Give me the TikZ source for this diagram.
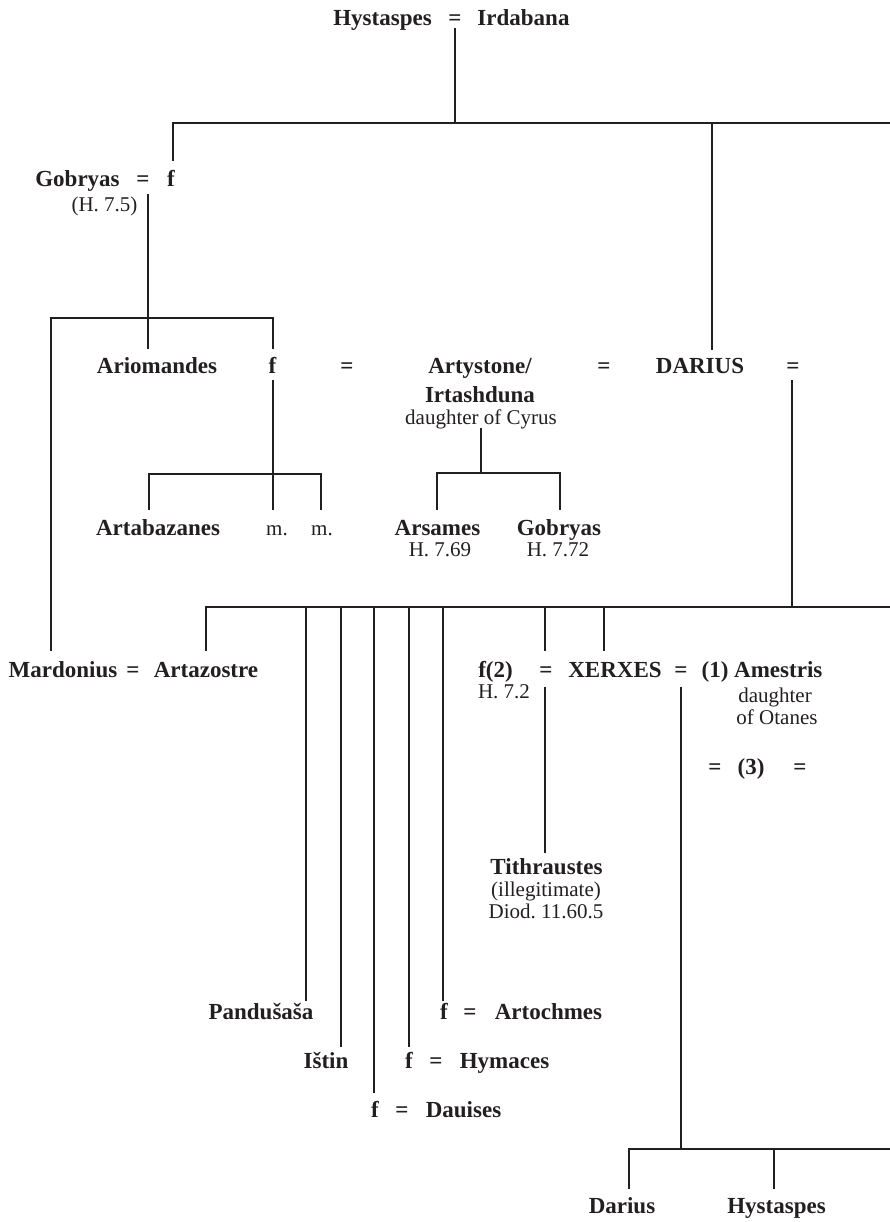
\documentclass[tikz,border=0pt]{standalone}
\usepackage{fontspec}
\setmainfont{Liberation Serif}
\frenchspacing
\definecolor{ink}{HTML}{231F20}
\newcommand\nmfont{\fontsize{23}{27}\selectfont\bfseries}
\newcommand\smfont{\fontsize{21}{24}\selectfont}
\tikzset{
  nm/.style={anchor=base, inner sep=0pt, font=\nmfont, text=ink},
  sm/.style={anchor=base, inner sep=0pt, font=\smfont, text=ink},
  ln/.style={draw=ink, line width=2.9pt, line cap=butt, line join=miter},
}
\begin{document}
\begin{tikzpicture}[x=1pt,y=-1pt]
\useasboundingbox[fill=white] (0,0) rectangle (890,1222);

% ---------- row 0
\node[nm] (hyst0) at (382.5,26) {Hystaspes};
\node[nm] (eq0) at (455,26) {=};
\node[nm] (irda) at (523.5,26) {Irdabana};

% ---------- row 1
\node[nm] (gob1) at (77.5,187) {Gobryas};
\node[nm] (eq1) at (143,187) {=};
\node[nm] (f1) at (171,187) {f};
\node[sm] (h75) at (104.5,212) {(H. 7.5)};

% ---------- row 2
\node[nm] (ariom) at (157,373) {Ariomandes};
\node[nm] (f2) at (272.5,373) {f};
\node[nm] (eq2a) at (347,373) {=};
\node[nm] (arty) at (480,373) {Artystone/};
\node[nm] (irta) at (480,402) {Irtashduna};
\node[sm] (dcyr) at (481,424) {daughter of Cyrus};
\node[nm] (eq2b) at (604,373) {=};
\node[nm] (darius) at (700,373) {DARIUS};
\node[nm] (eq2c) at (793,373) {=};

% ---------- row 3
\node[nm] (artab) at (158,535) {Artabazanes};
\node[sm] (m1) at (277,535) {m.};
\node[sm] (m2) at (322,535) {m.};
\node[nm] (arsa) at (437.5,535) {Arsames};
\node[sm] (h769) at (440,556) {H. 7.69};
\node[nm] (gob3) at (559,535) {Gobryas};
\node[sm] (h772) at (558,556) {H. 7.72};

% ---------- row 4
\node[nm] (mard) at (63,677) {Mardonius};
\node[nm] (eq4a) at (133,677) {=};
\node[nm] (artaz) at (206,677) {Artazostre};
\node[nm] (f4) at (495.5,677) {f(2)};
\node[sm] (h72) at (504,698) {H. 7.2};
\node[nm] (eq4b) at (546,677) {=};
\node[nm] (xerx) at (615,677) {XERXES};
\node[nm] (eq4c) at (681,677) {=};
\node[nm] (ames) at (762,677) {(1) Amestris};
\node[sm] (dota1) at (775,702) {daughter};
\node[sm] (dota2) at (777,724) {of Otanes};
\node[nm] (eq5a) at (715,774) {=};
\node[nm] (three) at (751,774) {(3)};
\node[nm] (eq5b) at (800,774) {=};

\node[nm] (tith) at (546.5,874) {Tithraustes};
\node[sm] (illeg) at (546,896) {(illegitimate)};
\node[sm] (diod) at (546,918) {Diod. 11.60.5};

% ---------- lower children of Darius
\node[nm] (pand) at (261,1019) {Pandušaša};
\node[nm] (fa) at (444,1019) {f};
\node[nm] (eqa) at (470,1019) {=};
\node[nm] (artoc) at (548.5,1019) {Artochmes};
\node[nm] (istin) at (326,1068) {Ištin};
\node[nm] (fh) at (409,1068) {f};
\node[nm] (eqh) at (436,1068) {=};
\node[nm] (hyma) at (504.5,1068) {Hymaces};
\node[nm] (fd) at (375,1117) {f};
\node[nm] (eqd) at (402,1117) {=};
\node[nm] (daui) at (463.5,1117) {Dauises};

% ---------- children of Xerxes
\node[nm] (dar5) at (622,1213) {Darius};
\node[nm] (hyst5) at (776.5,1213) {Hystaspes};

% ---------- coordinates for connectors
\coordinate (c0a) at (455,28);
\coordinate (c0b) at (455,123);
\coordinate (c0L) at (173,123);
\coordinate (c0R) at (890,123);
\coordinate (c0D) at (712,123);
\coordinate (gobT) at (173,161);
\coordinate (darT) at (712,350);

\coordinate (c1a) at (148,194);
\coordinate (c1b) at (148,318);
\coordinate (c1L) at (51,318);
\coordinate (c1R) at (273,318);
\coordinate (mardT) at (51,651);
\coordinate (ariomT) at (148,349);
\coordinate (f2T) at (273,349);

\coordinate (c2a) at (273,380);
\coordinate (c2b) at (273,474);
\coordinate (c2L) at (149,474);
\coordinate (c2R) at (321,474);
\coordinate (artabT) at (149,510);
\coordinate (m1T) at (273,510);
\coordinate (m2T) at (321,510);

\coordinate (c3a) at (481,428);
\coordinate (c3b) at (481,473);
\coordinate (c3L) at (437,473);
\coordinate (c3R) at (560,473);
\coordinate (arsaT) at (437,510);
\coordinate (gob3T) at (560,510);

\coordinate (c4a) at (792,380);
\coordinate (c4b) at (792,607);
\coordinate (c4L) at (206,607);
\coordinate (c4R) at (890,607);
\coordinate (artazT) at (206,651);
\coordinate (k1) at (306,607);  \coordinate (pandT) at (306,1001);
\coordinate (k2) at (341,607);  \coordinate (istinT) at (341,1047);
\coordinate (k3) at (374,607);  \coordinate (fdT) at (374,1093);
\coordinate (k4) at (409,607);  \coordinate (fhT) at (409,1047);
\coordinate (k5) at (443,607);  \coordinate (faT) at (443,1001);
\coordinate (k6) at (545,607);  \coordinate (f4T) at (545,651);
\coordinate (k7) at (604,607);  \coordinate (xerxT) at (604,651);

\coordinate (c5a) at (545,687);
\coordinate (tithT) at (545,853);

\coordinate (c6a) at (681,687);
\coordinate (c6b) at (681,1149);
\coordinate (c6L) at (629,1149);
\coordinate (c6R) at (890,1149);
\coordinate (k8) at (774,1149);
\coordinate (dar5T) at (629,1189);
\coordinate (hyst5T) at (774,1189);

% ---------- connectors
\draw[ln] (c0a) -- (c0b);
\draw[ln] (gobT) -- (c0L) -- (c0R);
\draw[ln] (c0D) -- (darT);

\draw[ln] (c1a) -- (c1b);
\draw[ln] (mardT) -- (c1L) -- (c1R) -- (f2T);
\draw[ln] (c1b) -- (ariomT);

\draw[ln] (c2a) -- (c2b);
\draw[ln] (artabT) -- (c2L) -- (c2R) -- (m2T);
\draw[ln] (c2b) -- (m1T);

\draw[ln] (c3a) -- (c3b);
\draw[ln] (arsaT) -- (c3L) -- (c3R) -- (gob3T);

\draw[ln] (c4a) -- (c4b);
\draw[ln] (artazT) -- (c4L) -- (c4R);
\draw[ln] (k1) -- (pandT);
\draw[ln] (k2) -- (istinT);
\draw[ln] (k3) -- (fdT);
\draw[ln] (k4) -- (fhT);
\draw[ln] (k5) -- (faT);
\draw[ln] (k6) -- (f4T);
\draw[ln] (k7) -- (xerxT);

\draw[ln] (c5a) -- (tithT);

\draw[ln] (c6a) -- (c6b);
\draw[ln] (dar5T) -- (c6L) -- (c6R);
\draw[ln] (k8) -- (hyst5T);
\end{tikzpicture}
\end{document}
